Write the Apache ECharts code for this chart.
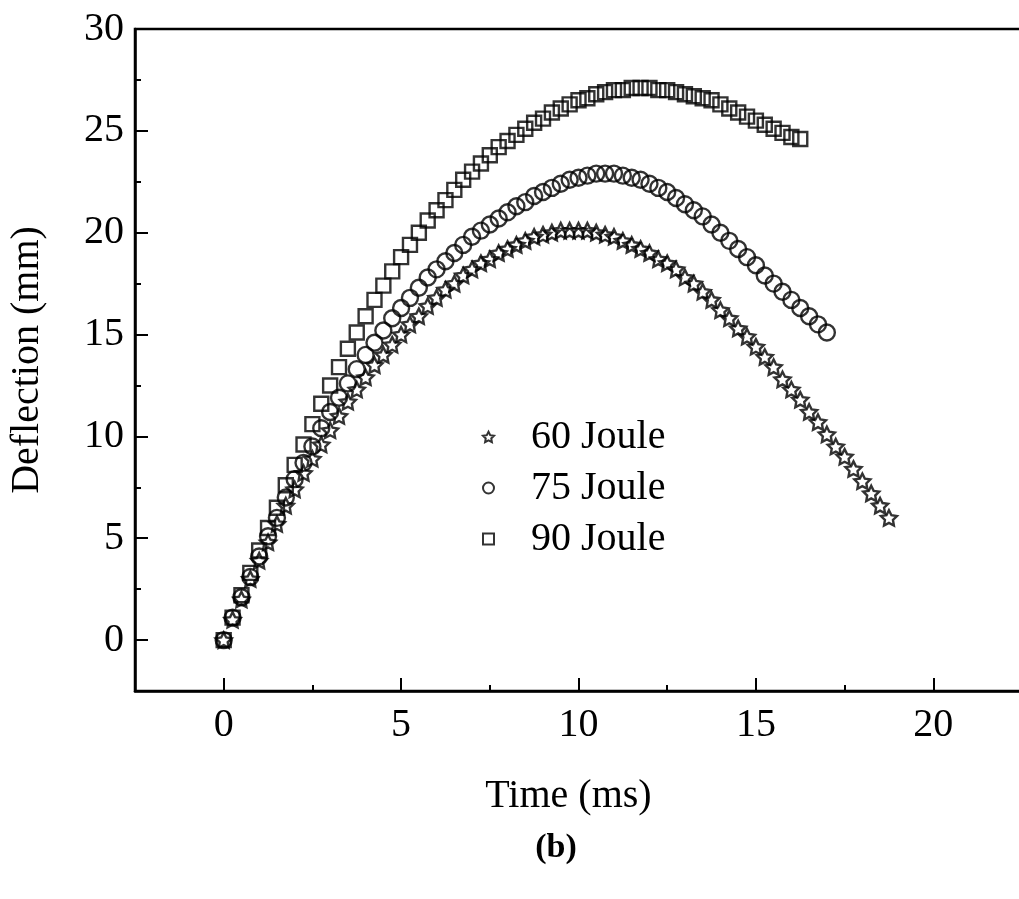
<!DOCTYPE html>
<html>
<head>
<meta charset="utf-8">
<script src="https://cdn.jsdelivr.net/npm/echarts@6/dist/echarts.min.js"></script>
<style>
html,body{margin:0;padding:0;background:#fff;}
#chart{width:1019px;height:899px;}
</style>
</head>
<body>
<div id="chart"></div>
<script>
// ---- data ----
const seriesNames = ['60 Joule', '75 Joule', '90 Joule'];
const t60 = [0,0.25,0.5,0.75,1,1.25,1.5,1.75,2,2.25,2.5,2.75,3,3.25,3.5,3.75,4,4.25,4.5,4.75,5,5.25,5.5,5.75,6,6.25,6.5,6.75,7,7.25,7.5,7.75,8,8.25,8.5,8.75,9,9.25,9.5,9.75,10,10.25,10.5,10.75,11,11.25,11.5,11.75,12,12.25,12.5,12.75,13,13.25,13.5,13.75,14,14.25,14.5,14.75,15,15.25,15.5,15.75,16,16.25,16.5,16.75,17,17.25,17.5,17.75,18,18.25,18.5,18.75];
const d60 = [0,1.0,2.0,3.0,3.9,4.8,5.7,6.6,7.4,8.2,8.9,9.6,10.3,11.0,11.7,12.3,12.9,13.5,14.0,14.5,15.0,15.5,15.9,16.4,16.8,17.2,17.5,17.9,18.2,18.5,18.7,19.0,19.2,19.4,19.6,19.8,19.9,20.0,20.1,20.1,20.1,20.1,20.0,19.9,19.8,19.6,19.4,19.2,19.0,18.7,18.5,18.2,17.8,17.5,17.1,16.7,16.2,15.8,15.3,14.9,14.4,13.9,13.4,12.8,12.3,11.8,11.2,10.7,10.1,9.5,9.0,8.4,7.8,7.2,6.6,6.0];
const t75 = [0,0.25,0.5,0.75,1,1.25,1.5,1.75,2,2.25,2.5,2.75,3,3.25,3.5,3.75,4,4.25,4.5,4.75,5,5.25,5.5,5.75,6,6.25,6.5,6.75,7,7.25,7.5,7.75,8,8.25,8.5,8.75,9,9.25,9.5,9.75,10,10.25,10.5,10.75,11,11.25,11.5,11.75,12,12.25,12.5,12.75,13,13.25,13.5,13.75,14,14.25,14.5,14.75,15,15.25,15.5,15.75,16,16.25,16.5,16.75,17];
const d75 = [0,1.1,2.1,3.1,4.1,5.1,6.0,7.0,7.9,8.7,9.5,10.4,11.2,11.9,12.6,13.3,14.0,14.6,15.2,15.8,16.3,16.8,17.3,17.8,18.2,18.6,19.0,19.4,19.8,20.1,20.4,20.7,21.0,21.3,21.5,21.8,22.0,22.2,22.4,22.6,22.7,22.8,22.9,22.9,22.9,22.8,22.7,22.6,22.4,22.2,22.0,21.7,21.4,21.1,20.8,20.4,20.0,19.6,19.2,18.8,18.4,17.9,17.5,17.1,16.7,16.3,15.9,15.5,15.1];
const t90 = [0,0.25,0.5,0.75,1,1.25,1.5,1.75,2,2.25,2.5,2.75,3,3.25,3.5,3.75,4,4.25,4.5,4.75,5,5.25,5.5,5.75,6,6.25,6.5,6.75,7,7.25,7.5,7.75,8,8.25,8.5,8.75,9,9.25,9.5,9.75,10,10.25,10.5,10.75,11,11.25,11.5,11.75,12,12.25,12.5,12.75,13,13.25,13.5,13.75,14,14.25,14.5,14.75,15,15.25,15.5,15.75,16,16.25];
const d90 = [0,1.1,2.2,3.3,4.4,5.5,6.5,7.6,8.6,9.6,10.6,11.6,12.5,13.4,14.3,15.1,15.9,16.7,17.4,18.1,18.8,19.4,20.0,20.6,21.1,21.6,22.1,22.6,23.0,23.4,23.8,24.2,24.5,24.8,25.1,25.4,25.6,25.9,26.1,26.3,26.5,26.6,26.8,26.9,27.0,27.0,27.1,27.1,27.1,27.0,27.0,26.9,26.8,26.7,26.6,26.5,26.3,26.1,25.9,25.7,25.5,25.3,25.1,24.9,24.7,24.6];
const xTitle = 'Time (ms)';
const yTitle = 'Deflection (mm)';
const caption = '(b)';

// ---- chart ----
const FONT = '"Liberation Serif", "Times New Roman", serif';
const starPath = 'path://M0,-10 L2.94,-4.05 L9.51,-3.09 L4.76,1.55 L5.88,8.09 L0,5 L-5.88,8.09 L-4.76,1.55 L-9.51,-3.09 L-2.94,-4.05 Z';
const zip = (a, b) => a.map((v, i) => [v, b[i]]);
const hollow = {color: 'rgba(0,0,0,0)', borderColor: '#000', borderWidth: 2.4};

const chart = echarts.init(document.getElementById('chart'), null, {renderer: 'canvas'});
const labelFmt = v => (Math.abs(v % 5) < 1e-9 ? String(v) : '');

chart.setOption({
  animation: false,
  backgroundColor: '#fff',
  textStyle: {fontFamily: FONT, color: '#000'},
  title: {
    text: caption, left: 551, top: 826, textAlign: 'center',
    textStyle: {fontFamily: FONT, fontWeight: 'bold', fontSize: 34, color: '#000'}
  },
  legend: {
    orient: 'vertical', left: 477, top: 412, itemGap: 11,
    itemWidth: 11, itemHeight: 11,
    data: seriesNames,
    textStyle: {fontFamily: FONT, fontSize: 40, color: '#000', padding: [0, 0, 0, 32]}
  },
  grid: {
    left: 135, top: 29, width: 887, bottom: 208,
    outerBoundsMode: 'none', containLabel: false,
    show: true, borderColor: '#000', borderWidth: 2.5, backgroundColor: 'transparent'
  },
  xAxis: [{
    type: 'value', position: 'bottom', min: -2.5, max: 22.5, minInterval: 5, maxInterval: 5,
    name: xTitle, nameLocation: 'middle', nameGap: 85,
    nameTextStyle: {fontFamily: FONT, fontSize: 40, color: '#000', padding: [0, 20, 0, 0]},
    axisLine: {show: true, onZero: false, lineStyle: {color: '#000', width: 2.5}},
    axisTick: {show: true, inside: true, length: 13, lineStyle: {color: '#000', width: 2}},
    axisLabel: {formatter: labelFmt, fontFamily: FONT, fontSize: 40, color: '#000', margin: 14},
    splitLine: {show: false}
  }, {
    type: 'value', position: 'bottom', min: -2.5, max: 22.5, interval: 2.5,
    axisLine: {show: false, onZero: false},
    axisTick: {show: true, inside: true, length: 6, lineStyle: {color: '#000', width: 2}},
    axisLabel: {show: false}, splitLine: {show: false}
  }],
  yAxis: [{
    type: 'value', position: 'left', min: -2.5, max: 30, minInterval: 5, maxInterval: 5,
    name: yTitle, nameLocation: 'middle', nameGap: 88, nameRotate: 90,
    nameTextStyle: {fontFamily: FONT, fontSize: 40, color: '#000'},
    axisLine: {show: true, onZero: false, lineStyle: {color: '#000', width: 2.5}},
    axisTick: {show: true, inside: true, length: 13, lineStyle: {color: '#000', width: 2}},
    axisLabel: {formatter: labelFmt, fontFamily: FONT, fontSize: 40, color: '#000', margin: 11},
    splitLine: {show: false}
  }, {
    type: 'value', position: 'left', min: -2.5, max: 30, interval: 2.5,
    axisLine: {show: false, onZero: false},
    axisTick: {show: true, inside: true, length: 6, lineStyle: {color: '#000', width: 2}},
    axisLabel: {show: false}, splitLine: {show: false}
  }],
  series: [
    {name: seriesNames[0], type: 'scatter', symbol: starPath, symbolSize: 16, symbolKeepAspect: true,
     itemStyle: hollow, data: zip(t60, d60)},
    {name: seriesNames[1], type: 'scatter', symbol: 'circle', symbolSize: 16,
     itemStyle: hollow, data: zip(t75, d75)},
    {name: seriesNames[2], type: 'scatter', symbol: 'rect', symbolSize: 14,
     itemStyle: hollow, data: zip(t90, d90)}
  ]
});
</script>
</body>
</html>
